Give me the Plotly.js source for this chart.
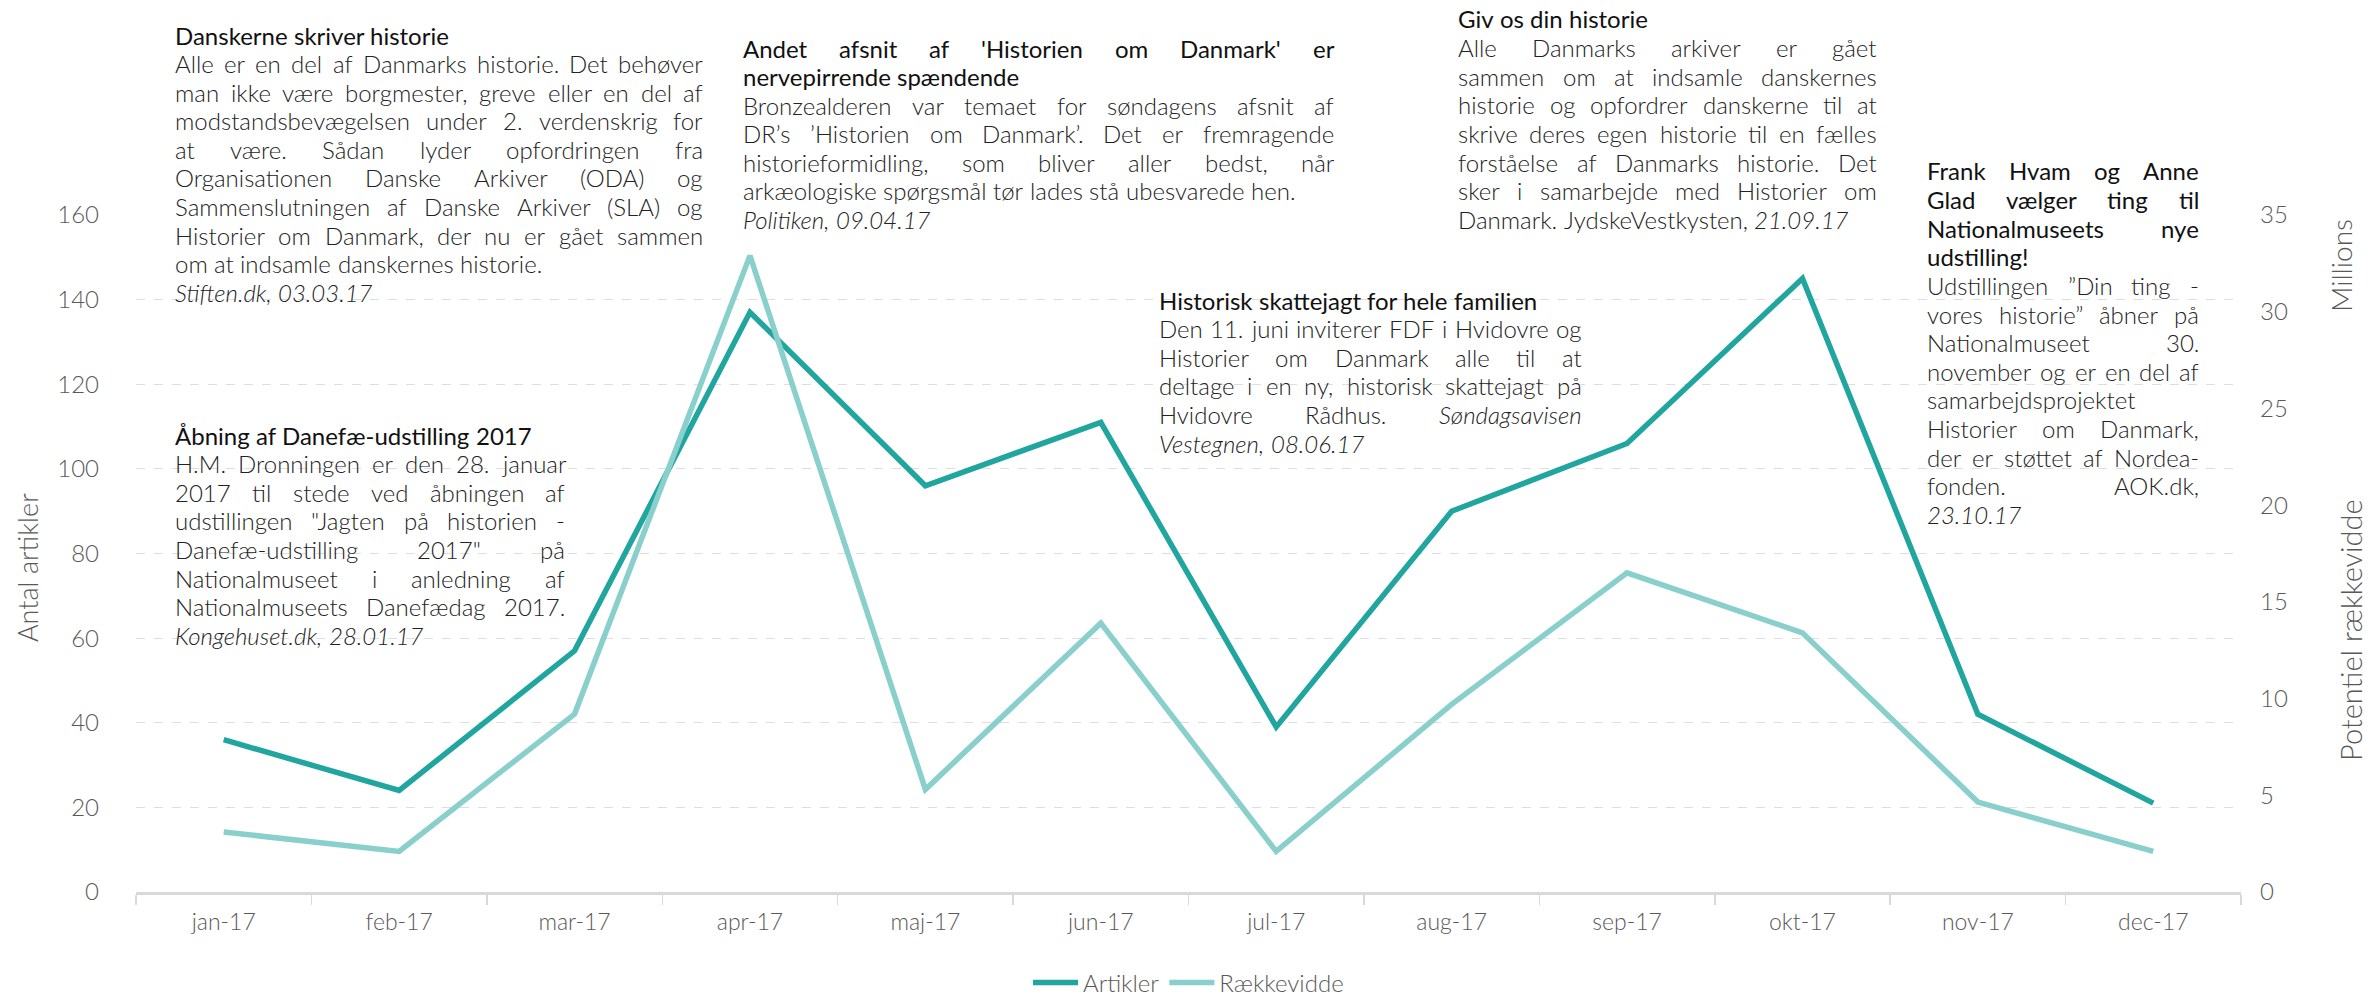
<!DOCTYPE html>
<html>
<head>
<meta charset="utf-8">
<script src="https://cdn.plot.ly/plotly-3.0.1.min.js"></script>
<style>html,body{margin:0;padding:0;background:#fff;}#chart{width:2371px;height:997px;}</style>
</head>
<body>
<div id="chart"></div>
<script>
// ---- data ----
const months = ["jan-17","feb-17","mar-17","apr-17","maj-17","jun-17","jul-17","aug-17","sep-17","okt-17","nov-17","dec-17"];
const artikler = [36, 24, 57, 137, 96, 111, 39, 90, 106, 145, 42, 21];
const raekkevidde = [3.1, 2.1, 9.2, 32.9, 5.3, 13.9, 2.1, 9.7, 16.5, 13.4, 4.65, 2.1]; // millions
const leftTicks = [0, 20, 40, 60, 80, 100, 120, 140, 160];
const rightTicks = [0, 5, 10, 15, 20, 25, 30, 35];

// ---- annotation texts (title lines, body lines) ----
const notes = [
  {title: ["Danskerne skriver historie"],
   body: ["Alle er en del af Danmarks historie. Det behøver",
          "man ikke være borgmester, greve eller en del af",
          "modstandsbevægelsen under 2. verdenskrig for",
          "at være. Sådan lyder opfordringen fra",
          "Organisationen Danske Arkiver (ODA) og",
          "Sammenslutningen af Danske Arkiver (SLA) og",
          "Historier om Danmark, der nu er gået sammen",
          "om at indsamle danskernes historie.",
          "<i>Stiften.dk, 03.03.17</i>"],
   just: [0, 1,1,1,1,1,1,1,0,0], left: 175, right: 703, top: 35},
  {title: ["Andet afsnit af 'Historien om Danmark' er", "nervepirrende spændende"],
   body: ["Bronzealderen var temaet for søndagens afsnit af",
          "DR’s ’Historien om Danmark’. Det er fremragende",
          "historieformidling, som bliver aller bedst, når",
          "arkæologiske spørgsmål tør lades stå ubesvarede hen.",
          "<i>Politiken, 09.04.17</i>"],
   just: [1,0, 1,1,1,0,0], left: 743, right: 1334, top: 48},
  {title: ["Giv os din historie"],
   body: ["Alle Danmarks arkiver er gået",
          "sammen om at indsamle danskernes",
          "historie og opfordrer danskerne til at",
          "skrive deres egen historie til en fælles",
          "forståelse af Danmarks historie. Det",
          "sker i samarbejde med Historier om",
          "Danmark. JydskeVestkysten, <i>21.09.17</i>"],
   just: [0, 1,1,1,1,1,1,0], left: 1458, right: 1877, top: 19},
  {title: ["Frank Hvam og Anne", "Glad vælger ting til", "Nationalmuseets nye", "udstilling!"],
   body: ["Udstillingen ”Din ting -",
          "vores historie” åbner på",
          "Nationalmuseet 30.",
          "november og er en del af",
          "samarbejdsprojektet",
          "Historier om Danmark,",
          "der er støttet af Nordea-",
          "fonden. AOK.dk,",
          "<i>23.10.17</i>"],
   just: [1,1,1,0, 1,1,1,1,0,1,1,1,0], left: 1927, right: 2199, top: 171},
  {title: ["Historisk skattejagt for hele familien"],
   body: ["Den 11. juni inviterer FDF i Hvidovre og",
          "Historier om Danmark alle til at",
          "deltage i en ny, historisk skattejagt på",
          "Hvidovre Rådhus. <i>Søndagsavisen</i>",
          "<i>Vestegnen, 08.06.17</i>"],
   just: [0, 1,1,1,1,0], left: 1159, right: 1582, top: 300},
  {title: ["Åbning af Danefæ-udstilling 2017"],
   body: ["H.M. Dronningen er den 28. januar",
          "2017 til stede ved åbningen af",
          "udstillingen \"Jagten på historien -",
          "Danefæ-udstilling 2017\" på",
          "Nationalmuseet i anledning af",
          "Nationalmuseets Danefædag 2017.",
          "<i>Kongehuset.dk, 28.01.17</i>"],
   just: [0, 1,1,1,1,1,1,0], left: 175, right: 565, top: 435}
];

// ---- layout geometry (pixels) ----
const W = 2371, H = 997;
const L = 136, R = 2241, T = 215, B = 892;
const px2x = p => (p - L) / (R - L);
const py2y = p => (B - p) / (B - T);

const FONT = "Lato, 'Open Sans', sans-serif";
const dark = "#21a59f", light = "#89cfcc";
const FS = 24, LH = 28.6;

const ctx = document.createElement("canvas").getContext("2d");
function measure(text, italic, weight) {
  ctx.font = (italic ? "italic " : "") + weight + " " + FS + "px Lato";
  return ctx.measureText(text).width;
}

// split a line into words, tracking <i> state
function words(line) {
  const out = [];
  let ital = false;
  line.split(" ").forEach(tok => {
    let w = tok, it = ital;
    if (w.startsWith("<i>")) { w = w.slice(3); it = true; ital = true; }
    if (w.endsWith("</i>")) { w = w.slice(0, -4); ital = false; }
    out.push({w: w, it: it});
  });
  return out;
}

const annotations = [];
notes.forEach(n => {
  const lines = n.title.map(t => ({t: t, title: true})).concat(n.body.map(t => ({t: t, title: false})));
  lines.forEach((ln, i) => {
    const weight = ln.title ? 400 : 300;
    const color = ln.title ? "#111111" : "#222222";
    const ws = words(ln.t);
    ws.forEach(o => o.width = measure(o.w, o.it, weight));
    const space = measure(" ", false, weight);
    const sum = ws.reduce((a, o) => a + o.width, 0);
    let gap = space;
    if (n.just[i] && ws.length > 1) gap = Math.max(space * 0.6, (n.right - n.left - sum) / (ws.length - 1));
    let xpos = n.left;
    const yc = n.top + i * LH;
    ws.forEach(o => {
      annotations.push({
        xref: "paper", yref: "paper", x: px2x(xpos), y: py2y(yc),
        xanchor: "left", yanchor: "middle", align: "left", showarrow: false,
        borderpad: 0, borderwidth: 0,
        font: {family: FONT, size: FS, color: color, weight: weight},
        text: o.it ? "<i>" + o.w + "</i>" : o.w
      });
      xpos += o.width + gap;
    });
  });
});

annotations.push(
  {xref: "paper", yref: "paper", x: px2x(27), y: py2y(568), textangle: -90, showarrow: false,
   xanchor: "center", yanchor: "middle", text: "Antal artikler",
   font: {family: FONT, size: 27, color: "#595959", weight: 300}},
  {xref: "paper", yref: "paper", x: px2x(2341), y: py2y(266), textangle: -90, showarrow: false,
   xanchor: "center", yanchor: "middle", text: "Millions",
   font: {family: FONT, size: 28, color: "#595959", weight: 300}},
  {xref: "paper", yref: "paper", x: px2x(2350), y: py2y(630), textangle: -90, showarrow: false,
   xanchor: "center", yanchor: "middle", text: "Potentiel rækkevidde",
   font: {family: FONT, size: 29, color: "#595959", weight: 300}}
);

const traces = [
  {x: months, y: artikler, name: "Artikler", type: "scatter", mode: "lines",
   line: {color: dark, width: 5.5}, yaxis: "y", cliponaxis: false},
  {x: months, y: raekkevidde, name: "Rækkevidde", type: "scatter", mode: "lines",
   line: {color: light, width: 5.5}, yaxis: "y2", cliponaxis: false}
];

const layout = {
  width: W, height: H,
  paper_bgcolor: "#ffffff", plot_bgcolor: "#ffffff",
  margin: {l: L, r: W - R, t: T, b: H - B, pad: 0, autoexpand: false},
  font: {family: FONT, color: "#595959", size: 23},
  showlegend: true,
  legend: {orientation: "h", x: 0.5, xanchor: "center", xref: "paper",
           y: 1 - 983 / H, yref: "container", yanchor: "middle",
           font: {family: FONT, size: 24, color: "#595959", weight: 300}, itemwidth: 45, tracegroupgap: 0},
  xaxis: {type: "category", categoryorder: "array", categoryarray: months, automargin: false,
          range: [-0.5, 11.5], tickson: "boundaries", ticks: "outside", ticklen: 10,
          tickcolor: "#d9d9d9", tickwidth: 1.5, showline: true, linecolor: "#d9d9d9", linewidth: 2.5,
          showgrid: false, zeroline: false, ticklabelstandoff: 8,
          tickfont: {family: FONT, size: 23, color: "#595959", weight: 300}},
  yaxis: {range: [0, 160], tickvals: leftTicks, ticktext: leftTicks.map(String), showgrid: true,
          automargin: false,
          gridcolor: "#dedede", griddash: "dash", gridwidth: 1.2, zeroline: false, showline: false,
          ticks: "", ticklabelstandoff: 36,
          tickfont: {family: FONT, size: 24, color: "#595959", weight: 300}},
  yaxis2: {range: [0, 35], overlaying: "y", side: "right", tickvals: rightTicks, automargin: false,
           ticktext: rightTicks.map(String), showgrid: false, zeroline: false, showline: false,
           ticks: "", ticklabelstandoff: 18,
           tickfont: {family: FONT, size: 24, color: "#595959", weight: 300}},
  annotations: annotations
};

Plotly.newPlot("chart", traces, layout, {displayModeBar: false, staticPlot: true});
</script>
</body>
</html>
